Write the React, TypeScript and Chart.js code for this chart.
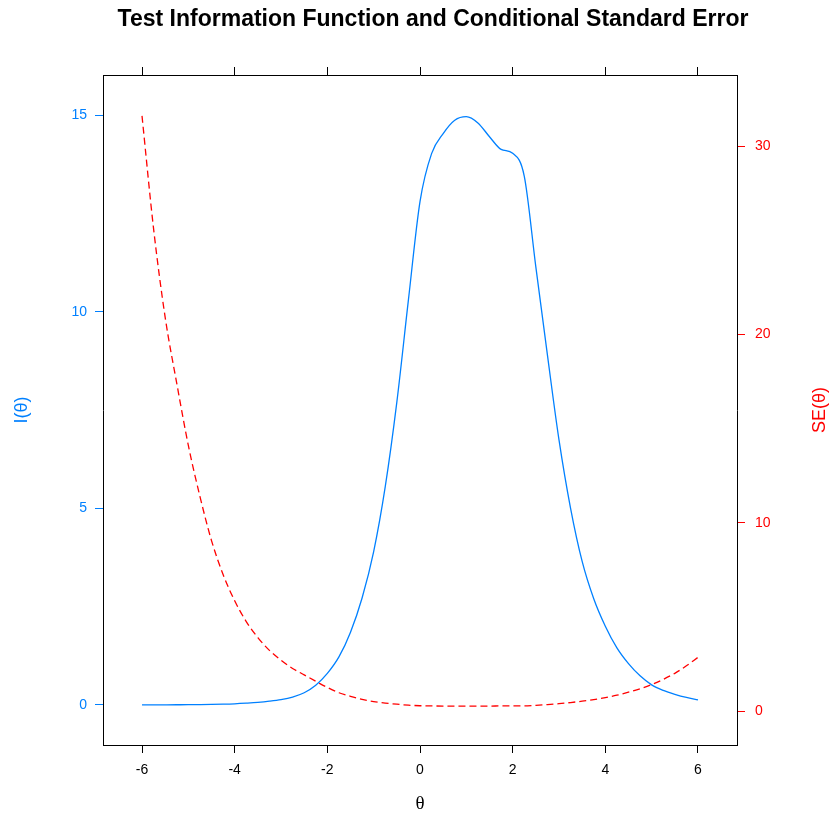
import { useEffect, useRef } from "react";
import { Chart, registerables } from "chart.js";

Chart.register(...registerables);

// ---- data ----
const theta = [
  -6, -5.75, -5.5, -5.25, -5, -4.75, -4.5, -4.25, -4, -3.75, -3.5, -3.25, -3,
  -2.75, -2.5, -2.25, -2, -1.75, -1.5, -1.25, -1, -0.75, -0.5, -0.25, 0, 0.25,
  0.5, 0.75, 1, 1.25, 1.5, 1.75, 2, 2.25, 2.5, 2.75, 3, 3.25, 3.5, 3.75, 4,
  4.25, 4.5, 4.75, 5, 5.25, 5.5, 5.75, 6,
];

const info = [
  0.001, 0.0015, 0.0023, 0.0035, 0.005, 0.008, 0.012, 0.018, 0.028, 0.044,
  0.064, 0.094, 0.135, 0.2, 0.31, 0.5, 0.8, 1.22, 1.85, 2.72, 3.9, 5.55, 7.7,
  10.3, 12.8, 14.02, 14.53, 14.87, 14.96, 14.8, 14.45, 14.13, 14.03, 13.45,
  11.14, 8.9, 6.74, 5.0, 3.65, 2.7, 2.0, 1.45, 1.05, 0.74, 0.51, 0.37, 0.27,
  0.19, 0.13,
];

const se = [
  31.6, 25.6, 20.9, 17.4, 14.1, 11.4, 9.05, 7.25, 5.85, 4.75, 3.9, 3.22, 2.7,
  2.26, 1.92, 1.58, 1.25, 0.97, 0.78, 0.62, 0.5, 0.42, 0.36, 0.31, 0.28, 0.27,
  0.26, 0.26, 0.26, 0.26, 0.26, 0.27, 0.27, 0.27, 0.3, 0.34, 0.39, 0.45, 0.52,
  0.6, 0.71, 0.84, 1.0, 1.18, 1.4, 1.68, 2.0, 2.4, 2.85,
];

const xTicks = [-6, -4, -2, 0, 2, 4, 6];
const infoTicks = [0, 5, 10, 15];
const seTicks = [0, 10, 20, 30];

const TITLE = "Test Information Function and Conditional Standard Error";
const X_LABEL = "θ";
const INFO_LABEL = "I(θ)";
const SE_LABEL = "SE(θ)";

const BLUE = "#0080ff";
const RED = "#ff0000";
const SANS = "'Liberation Sans', Arial, sans-serif";

export default function App() {
  const ref = useRef<HTMLCanvasElement>(null);

  useEffect(() => {
    const canvas = ref.current;
    if (!canvas) return;

    const setTicks = (vals: number[]) => (scale: any) => {
      scale.ticks = vals.map((v) => ({ value: v }));
    };

    const labels = {
      id: "labels",
      afterDraw(chart: any) {
        const s = chart.scales.y1;
        const c = chart.ctx;
        // main title
        c.save();
        c.fillStyle = "#000";
        c.font = `bold 23px ${SANS}`;
        c.textAlign = "center";
        c.textBaseline = "middle";
        c.fillText(TITLE, 433, 20);
        c.restore();
        // right axis title, reading bottom to top
        c.save();
        c.fillStyle = RED;
        c.font = `18px ${SANS}`;
        c.textAlign = "center";
        c.textBaseline = "middle";
        c.translate(s.right - 20, (chart.chartArea.top + chart.chartArea.bottom) / 2);
        c.rotate(-Math.PI / 2);
        c.fillText(SE_LABEL, 0, 0);
        c.restore();
      },
    };

    const tickFont = { family: SANS, size: 14 };

    const chart = new Chart(canvas, {
      type: "line",
      data: {
        datasets: [
          {
            label: INFO_LABEL,
            data: theta.map((t, i) => ({ x: t, y: info[i] })),
            borderColor: BLUE,
            borderWidth: 1.3,
            pointRadius: 0,
            cubicInterpolationMode: "monotone",
            xAxisID: "x",
            yAxisID: "y",
          },
          {
            label: SE_LABEL,
            data: theta.map((t, i) => ({ x: t, y: se[i] })),
            borderColor: RED,
            borderWidth: 1.3,
            borderDash: [7, 4],
            pointRadius: 0,
            cubicInterpolationMode: "monotone",
            xAxisID: "x",
            yAxisID: "y1",
          },
        ],
      },
      options: {
        animation: false,
        responsive: false,
        maintainAspectRatio: false,
        layout: { padding: { top: 40, left: 0, right: 0, bottom: 0 } },
        plugins: {
          legend: { display: false },
          tooltip: { enabled: false },
          title: { display: false },
        },
        scales: {
          x: {
            type: "linear",
            position: "bottom",
            min: -6.842,
            max: 6.842,
            afterBuildTicks: setTicks(xTicks),
            afterFit: (s: any) => {
              s.height = 95;
            },
            grid: { drawOnChartArea: false, tickLength: 8, color: "#000", lineWidth: 1 },
            border: { display: true, color: "#000", width: 1 },
            ticks: { color: "#000", font: tickFont, padding: 9, maxRotation: 0, autoSkip: false },
            title: {
              display: true,
              text: X_LABEL,
              color: "#000",
              font: { family: "'Liberation Serif', serif", size: 19 },
              padding: { top: 0, bottom: 25 },
            },
          },
          x2: {
            type: "linear",
            position: "top",
            min: -6.842,
            max: 6.842,
            afterBuildTicks: setTicks(xTicks),
            afterFit: (s: any) => {
              s.height = 35;
            },
            grid: { drawOnChartArea: false, tickLength: 8, color: "#000", lineWidth: 1 },
            border: { display: true, color: "#000", width: 1 },
            ticks: { display: false },
          },
          y: {
            type: "linear",
            position: "left",
            min: -1.02,
            max: 16.02,
            afterBuildTicks: setTicks(infoTicks),
            afterFit: (s: any) => {
              s.width = 103;
            },
            grid: { drawOnChartArea: false, tickLength: 8, color: BLUE, lineWidth: 1 },
            border: { display: true, color: "#000", width: 1 },
            ticks: { color: BLUE, font: tickFont, padding: 8 },
            title: {
              display: true,
              text: INFO_LABEL,
              color: BLUE,
              font: { family: SANS, size: 18 },
              padding: { top: 11, bottom: 0 },
            },
          },
          y1: {
            type: "linear",
            position: "right",
            min: -1.805,
            max: 33.77,
            afterBuildTicks: setTicks(seTicks),
            afterFit: (s: any) => {
              s.width = 103;
            },
            grid: { drawOnChartArea: false, tickLength: 8, color: RED, lineWidth: 1 },
            border: { display: true, color: "#000", width: 1 },
            ticks: { color: RED, font: tickFont, padding: 10 },
          },
        },
      },
      plugins: [labels],
    } as any);

    return () => chart.destroy();
  }, []);

  return (
    <div
      style={{
        position: "fixed",
        left: 0,
        top: 0,
        width: 840,
        height: 840,
        background: "#fff",
      }}
    >
      <canvas ref={ref} width={840} height={840} style={{ width: 840, height: 840 }} />
    </div>
  );
}
